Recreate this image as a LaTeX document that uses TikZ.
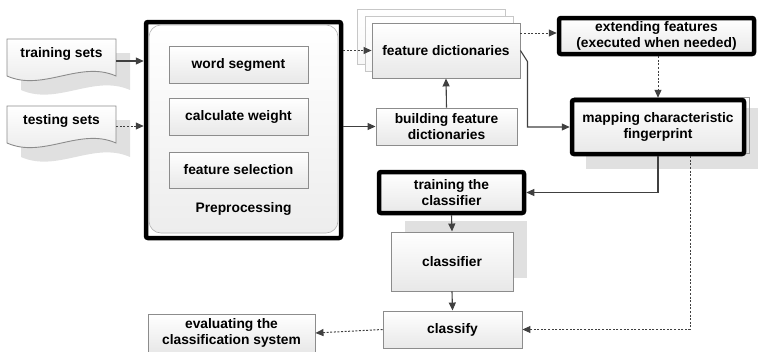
\documentclass[tikz,border=0pt]{standalone}
\usepackage{fontspec}
\setmainfont{Liberation Sans}
\usetikzlibrary{arrows.meta,calc}
\begin{document}
\begin{tikzpicture}[x=1pt,y=-1pt,
  font=\fontsize{13.8}{15.5}\selectfont\bfseries,
  box/.style={draw=black!45, line width=0.9pt, top color=white, bottom color=black!9,
    align=center, inner sep=0pt},
  thickbox/.style={draw=black, line width=4.5pt, rounded corners=2pt, top color=white,
    bottom color=black!9, align=center, inner sep=0pt},
  sheet/.style={box, draw=black!22, bottom color=black!3},
  shadowfill/.style={fill=black!12, draw=none},
  ghost/.style={inner sep=0pt},
  link/.style={draw=black!75, line width=1.1pt, -{Triangle[length=8pt,width=7pt]}},
  dotlink/.style={link, dash pattern=on 2pt off 1.6pt, line width=1pt},
]
\useasboundingbox (0,0) rectangle (758,351);

% ---- input documents (wavy-bottom shapes with drop shadows) ----
\path[shadowfill, shift={(14,14)}] (7,39) -- (116,39) -- (116,76)
  .. controls (80,60) and (43,92) .. (7,76) -- cycle;
\path[box] (7,39) -- (116,39) -- (116,76)
  .. controls (80,60) and (43,92) .. (7,76) -- cycle;
\node[ghost, minimum width=109pt, minimum height=44pt] (trn) at (61.5,61) {};
\node[ghost] (trnlabel) at (61.5,54) {training sets};

\path[shadowfill, shift={(14,14)}] (7,106) -- (116,106) -- (116,143)
  .. controls (80,127) and (43,159) .. (7,143) -- cycle;
\path[box] (7,106) -- (116,106) -- (116,143)
  .. controls (80,127) and (43,159) .. (7,143) -- cycle;
\node[ghost, minimum width=109pt, minimum height=44pt] (tst) at (61.5,126) {};
\node[ghost] (tstlabel) at (61.5,121) {testing sets};

% ---- preprocessing block ----
\node[thickbox, top color=white, bottom color=white, minimum width=195pt,
  minimum height=216pt] (pre) at (243.5,130) {};
\path[draw=black!30, line width=0.6pt, top color=white, bottom color=black!7,
  rounded corners=12pt] (149,25) rectangle (338,233);
\node[box, minimum width=139pt, minimum height=37pt] (ws) at (238.5,64.5) {word segment};
\node[box, minimum width=139pt, minimum height=37pt] (cw) at (238.5,116.5) {calculate weight};
\node[box, minimum width=139pt, minimum height=36pt] (fs) at (238.5,170) {feature selection};
\node[ghost] (prelabel) at (243.5,209) {Preprocessing};

% ---- feature dictionaries (stacked sheets) ----
\node[sheet, minimum width=148pt, minimum height=55pt] (fd3) at (431,36.5) {};
\node[sheet, minimum width=148pt, minimum height=55pt] (fd2) at (439,43.5) {};
\node[box, minimum width=148pt, minimum height=55pt] (fd) at (446,50.5) {feature dictionaries};

\node[box, minimum width=141pt, minimum height=37pt] (bfd) at (446.5,126.5)
  {building feature\\dictionaries};

% ---- extending features and mapping ----
\node[thickbox, minimum width=195pt, minimum height=36pt] (ext) at (656.5,36)
  {extending features\\(executed when needed)};
\coordinate (extin) at ($(ext.west)+(0,-3)$);

\path[shadowfill] (586,108) rectangle (758,169);
\draw[black!40, line width=0.8pt] (574,97) rectangle (749,153);
\node[thickbox, minimum width=172pt, minimum height=54pt] (map) at (658,127)
  {mapping characteristic\\fingerprint};

% ---- classifier chain ----
\node[thickbox, minimum width=145pt, minimum height=41pt] (trc) at (451.5,192.5)
  {training the\\classifier};
\path[shadowfill] (405,221) rectangle (527,278);
\node[box, minimum width=122pt, minimum height=59pt] (clf) at (452,261.5) {classifier};
\node[box, minimum width=139pt, minimum height=37pt] (cls) at (452.5,329.5) {classify};
\node[box, minimum width=167pt, minimum height=38pt] (ev) at (231.5,333)
  {evaluating the\\classification system};

% ---- connectors ----
\draw[link] (trn.east) -- (trn.east -| pre.west);
\draw[dotlink] (tst.east) -- (tst.east -| pre.west);
\draw[dotlink] (pre.east |- fd.west) -- (fd.west);
\draw[link] (pre.east |- bfd.west) -- (bfd.west);
\draw[link] (bfd.north) -- (fd.south);
\draw[dotlink] (fd.east |- extin) -- (extin);
\draw[link] (fd.east) -- ++(7,11) |- (map.west);
\draw[dotlink] (ext.south -| map.north) -- (map.north);
\draw[link] (map.south) |- (trc.east);
\draw[dotlink] ([xshift=32pt]map.south) |- (cls.east);
\draw[link] (trc.south) -- (clf.north);
\draw[link] (clf.south) -- (cls.north);
\draw[dotlink] (cls.west) -- (ev.east);
\end{tikzpicture}
\end{document}
